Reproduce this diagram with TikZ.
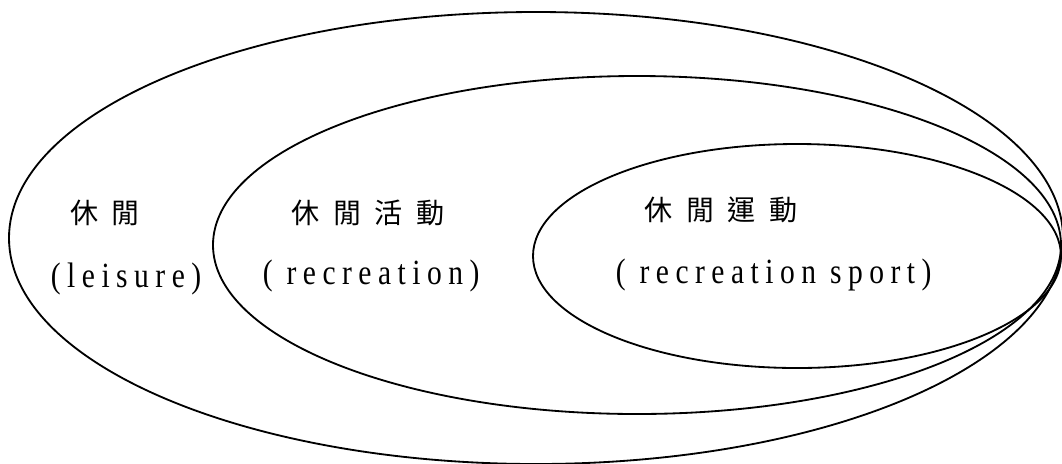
\documentclass[tikz,border=0pt]{standalone}
\usepackage{graphicx}
\usepackage{fontspec}
\setmainfont{Liberation Serif}[LetterSpace=22]
\newfontfamily\cjk{Noto Sans CJK TC}[LetterSpace=48]
\usetikzlibrary{positioning}
\newcommand\tallword[1]{\scalebox{1}[1.2]{#1}}

\begin{document}
\begin{tikzpicture}[x=0.025cm, y=-0.025cm, line width=1.3pt,
  zh/.style={anchor=center, inner sep=0pt, font=\cjk\fontsize{20}{24}\selectfont},
  en/.style={anchor=base west, inner sep=0pt, font=\fontsize{21}{25}\selectfont}]
 \useasboundingbox (0,0) rectangle (1062,463);
 \clip (0,0) rectangle (1062,463);
 % the three sets
 \draw (536,238) ellipse [x radius=527, y radius=226];
 \draw (637,245) ellipse [x radius=424, y radius=169];
 \draw (797,256) ellipse [x radius=264, y radius=112];
 % labels
 \node[zh] (leisurezh) at (105,213) {休閒};
 \node[en] (leisureen) at (50,287) {\tallword{(leisure)}};
 \node[zh] (recreationzh) at (368,213) {休閒活動};
 \node[en] (recreationen) at (262,284) {\tallword{( recreation)}};
 \node[zh] (sportzh) at (721,210) {休閒運動};
 \node[en] (sporten) at (615,283) {\tallword{( recreation sport)}};
\end{tikzpicture}
\end{document}
